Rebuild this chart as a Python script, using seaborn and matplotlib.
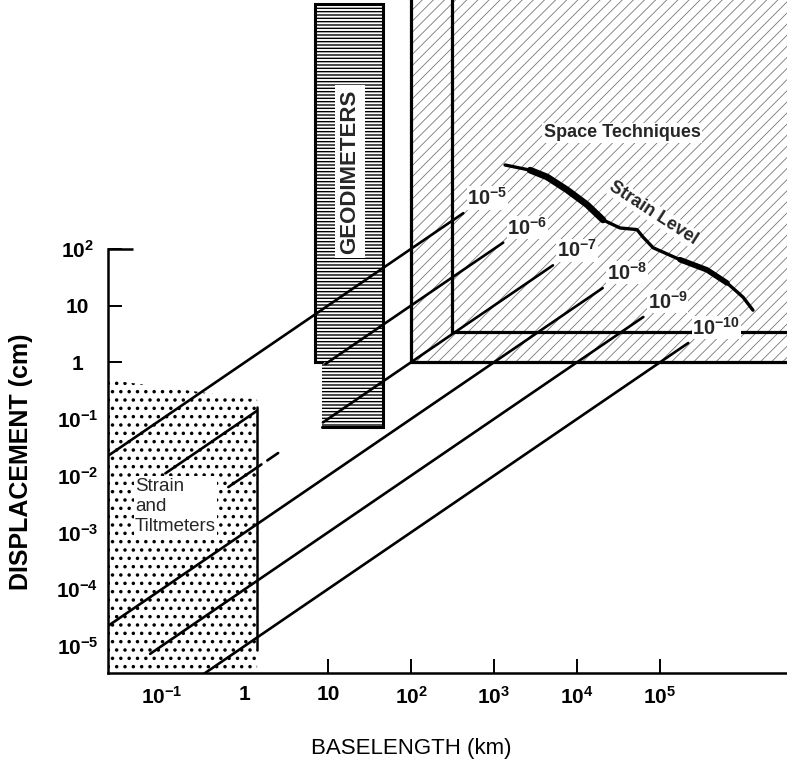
import numpy as np
import pandas as pd
import matplotlib
matplotlib.use("Agg")
import matplotlib.pyplot as plt
from matplotlib.patches import Polygon, Rectangle
from matplotlib.ticker import FixedLocator, NullLocator
import seaborn as sns

# ---------------- data ----------------
x_ticks = [1e-1, 1, 10, 1e2, 1e3, 1e4, 1e5]
x_tick_labels = ["$\\mathbf{10^{-1}}$", "1", "10", "$\\mathbf{10^{2}}$", "$\\mathbf{10^{3}}$",
                 "$\\mathbf{10^{4}}$", "$\\mathbf{10^{5}}$"]
y_ticks = [1e-5, 1e-4, 1e-3, 1e-2, 1e-1, 1, 10, 1e2]
y_tick_labels = ["$\\mathbf{10^{-5}}$", "$\\mathbf{10^{-4}}$", "$\\mathbf{10^{-3}}$",
                 "$\\mathbf{10^{-2}}$", "$\\mathbf{10^{-1}}$", "1", "10", "$\\mathbf{10^{2}}$"]

CM_PER_KM = 1e5
strain_exponents = [-5, -6, -7, -8, -9, -10]
# visible pieces of each constant-strain line, as baselength ranges (km)
strain_segments_km = [
    [(0.0224, 427)],
    [(0.11, 1.40), (9.3, 1290)],
    [(0.63, 1.58), (1.86, 2.51), (8.7, 5130)],
    [(0.0224, 20400)],
    [(0.072, 63000)],
    [(0.32, 219000)],
]

# "Strain Level" boundary curve (baselength km, displacement cm)
strain_level_L = [1360, 2720, 4350, 7590, 13200, 20600, 33000, 52800, 62400,
                  82500, 174000, 368000, 641000, 1000000, 1318000]
strain_level_d = [3020, 2450, 1860, 1100, 603, 324, 234, 219, 162,
                  105, 64.6, 42.7, 25.1, 14.1, 8.3]

# technique regions
tilt_L = [0.0224, 1.40]
tilt_top_d = [0.49, 0.22]
tilt_edge_d = [0.16, 8.5e-6]
geo_L = [7.0, 8.5, 46.0]
geo_d = [0.072, 1.0, 2.1e6]
space_outer = (100.0, 1.0)
space_inner = (312.0, 3.44)

# ---------------- style ----------------
sns.set_theme(style="white")
plt.rcParams["font.family"] = ["Liberation Sans", "DejaVu Sans"]
plt.rcParams["mathtext.fontset"] = "custom"
plt.rcParams["mathtext.rm"] = "Liberation Sans"
plt.rcParams["mathtext.it"] = "Liberation Sans:italic"
plt.rcParams["mathtext.bf"] = "Liberation Sans:bold"
plt.rcParams["axes.facecolor"] = "white"
plt.rcParams["axes.grid"] = False

XMIN, XMAX = 10 ** -1.65, 10 ** 6.53
YMIN, YMAX = 10 ** -5.48, 10 ** 6.39

fig = plt.figure(figsize=(7.87, 7.62), dpi=100)
ax = fig.add_axes([108 / 787, 89 / 762, 679 / 787, 673 / 762])
ax.set_xscale("log")
ax.set_yscale("log")
ax.set_xlim(XMIN, XMAX)
ax.set_ylim(YMIN, YMAX)


def hatch_patch(patch, lw):
    try:
        patch.set_hatch_linewidth(lw)
    except AttributeError:
        pass
    ax.add_patch(patch)


# Space techniques region
plt.rcParams["hatch.linewidth"] = 0.6
sp = Rectangle((space_outer[0], space_outer[1]), XMAX * 2 - space_outer[0], YMAX * 2 - space_outer[1],
               facecolor="white", edgecolor="#777777", hatch="///", lw=0, zorder=1)
hatch_patch(sp, 0.6)
ax.plot([space_outer[0], space_outer[0], XMAX * 2], [YMAX * 2, space_outer[1], space_outer[1]],
        color="black", lw=2.3, solid_joinstyle="miter", zorder=4)
ax.plot([space_inner[0], space_inner[0], XMAX * 2], [YMAX * 2, space_inner[1], space_inner[1]],
        color="black", lw=2.3, solid_joinstyle="miter", zorder=4)

# Geodimeters region
plt.rcParams["hatch.linewidth"] = 1.0
geo_poly = Polygon([(geo_L[1], geo_d[1]), (geo_L[0], geo_d[1]), (geo_L[0], geo_d[2]),
                    (geo_L[2], geo_d[2]), (geo_L[2], geo_d[0]), (geo_L[1], geo_d[0])],
                   closed=True, facecolor="white", edgecolor="black", hatch="-----", lw=0, zorder=1)
hatch_patch(geo_poly, 1.0)
ax.plot([geo_L[1], geo_L[0], geo_L[0], geo_L[2], geo_L[2], geo_L[1]],
        [geo_d[1], geo_d[1], geo_d[2], geo_d[2], geo_d[0], geo_d[0]],
        color="black", lw=2.2, solid_joinstyle="miter", zorder=4)
ax.text(18.4, 2290, "GEODIMETERS", rotation=90, ha="center", va="center",
        fontsize=16, fontweight="bold", zorder=5,
        bbox=dict(facecolor="white", edgecolor="none", pad=3))

# Strain and tiltmeters region
plt.rcParams["hatch.linewidth"] = 1.3
tilt_poly = Polygon([(tilt_L[0], YMIN), (tilt_L[0], tilt_top_d[0]), (tilt_L[1], tilt_top_d[1]),
                     (tilt_L[1], YMIN)], closed=True, facecolor="white", edgecolor="black",
                    hatch="..", lw=0, zorder=1)
hatch_patch(tilt_poly, 1.3)
ax.plot([tilt_L[1], tilt_L[1]], tilt_edge_d, color="black", lw=1.8, zorder=4)
ax.text(0.0473, 0.0092, "Strain\nand\nTiltmeters", ha="left", va="top", fontsize=13.5,
        linespacing=1.25, zorder=5, bbox=dict(facecolor="white", edgecolor="none", pad=1))

# Constant-strain lines
rows = []
for exp, segs in zip(strain_exponents, strain_segments_km):
    for j, (a, b) in enumerate(segs):
        for L in (a, b):
            rows.append({"L": L, "d": 10.0 ** exp * CM_PER_KM * L, "seg": f"{exp}_{j}", "exp": exp})
lines_df = pd.DataFrame(rows)
sns.lineplot(data=lines_df, x="L", y="d", units="seg", estimator=None, color="black",
             lw=1.9, legend=False, ax=ax, zorder=3)

for exp, segs in zip(strain_exponents, strain_segments_km):
    Lend = segs[-1][1]
    dend = 10.0 ** exp * CM_PER_KM * Lend
    ax.annotate(f"$\\mathbf{{10^{{{exp}}}}}$", xy=(Lend, dend), xytext=(3, 3),
                textcoords="offset points", ha="left", va="bottom", fontsize=14.5, zorder=6,
                bbox=dict(facecolor="white", edgecolor="none", pad=0.5))

# Strain level curve
curve_df = pd.DataFrame({"L": strain_level_L, "d": strain_level_d})
sns.lineplot(data=curve_df, x="L", y="d", sort=False, estimator=None, color="black",
             lw=2.4, ax=ax, zorder=5)
sns.lineplot(data=curve_df.iloc[1:6], x="L", y="d", sort=False, estimator=None, color="black",
             lw=4.8, ax=ax, zorder=5)
sns.lineplot(data=curve_df.iloc[10:13], x="L", y="d", sort=False, estimator=None, color="black",
             lw=4.0, ax=ax, zorder=5)

ax.text(3.48e4, 1.12e4, "Space Techniques", ha="center", va="center", fontsize=13,
        fontweight="bold", zorder=6, bbox=dict(facecolor="white", edgecolor="none", pad=1))
ax.text(82400, 432, "Strain Level", ha="center", va="center", fontsize=13, fontweight="bold",
        rotation=-33, zorder=6, bbox=dict(facecolor="white", edgecolor="none", pad=0.5))

# ---------------- axes ----------------
for s in ("top", "right"):
    ax.spines[s].set_visible(False)
for s in ("left", "bottom"):
    ax.spines[s].set_color("black")
    ax.spines[s].set_linewidth(1.8)
    ax.spines[s].set_zorder(7)
ax.spines["left"].set_bounds(YMIN, 100)

ax.xaxis.set_major_locator(FixedLocator(x_ticks))
ax.yaxis.set_major_locator(FixedLocator(y_ticks))
ax.xaxis.set_minor_locator(NullLocator())
ax.yaxis.set_minor_locator(NullLocator())
ax.set_xticklabels(x_tick_labels, fontweight="bold")
ax.set_yticklabels(y_tick_labels, fontweight="bold")
ax.tick_params(axis="both", which="major", direction="in", length=10, width=1.4,
               color="black", labelcolor="black", labelsize=15, bottom=True, left=True,
               top=False, right=False)
ax.tick_params(axis="x", pad=9)
ax.tick_params(axis="y", pad=22)
for lbl in ax.get_yticklabels():
    lbl.set_horizontalalignment("center")
# longer top tick at 10^2
ax.plot([0, 25 / 679], [100, 100], transform=ax.get_yaxis_transform(), color="black",
        lw=1.8, clip_on=False, zorder=7, solid_capstyle="butt")

ax.set_xlabel("BASELENGTH (km)", fontsize=16, color="black")
ax.xaxis.set_label_coords(0.446, -0.097)
ax.set_ylabel("DISPLACEMENT (cm)", fontsize=18, fontweight="bold", color="black")
ax.yaxis.set_label_coords(-0.110, 0.3135)

fig.savefig("out.png", dpi=100)
